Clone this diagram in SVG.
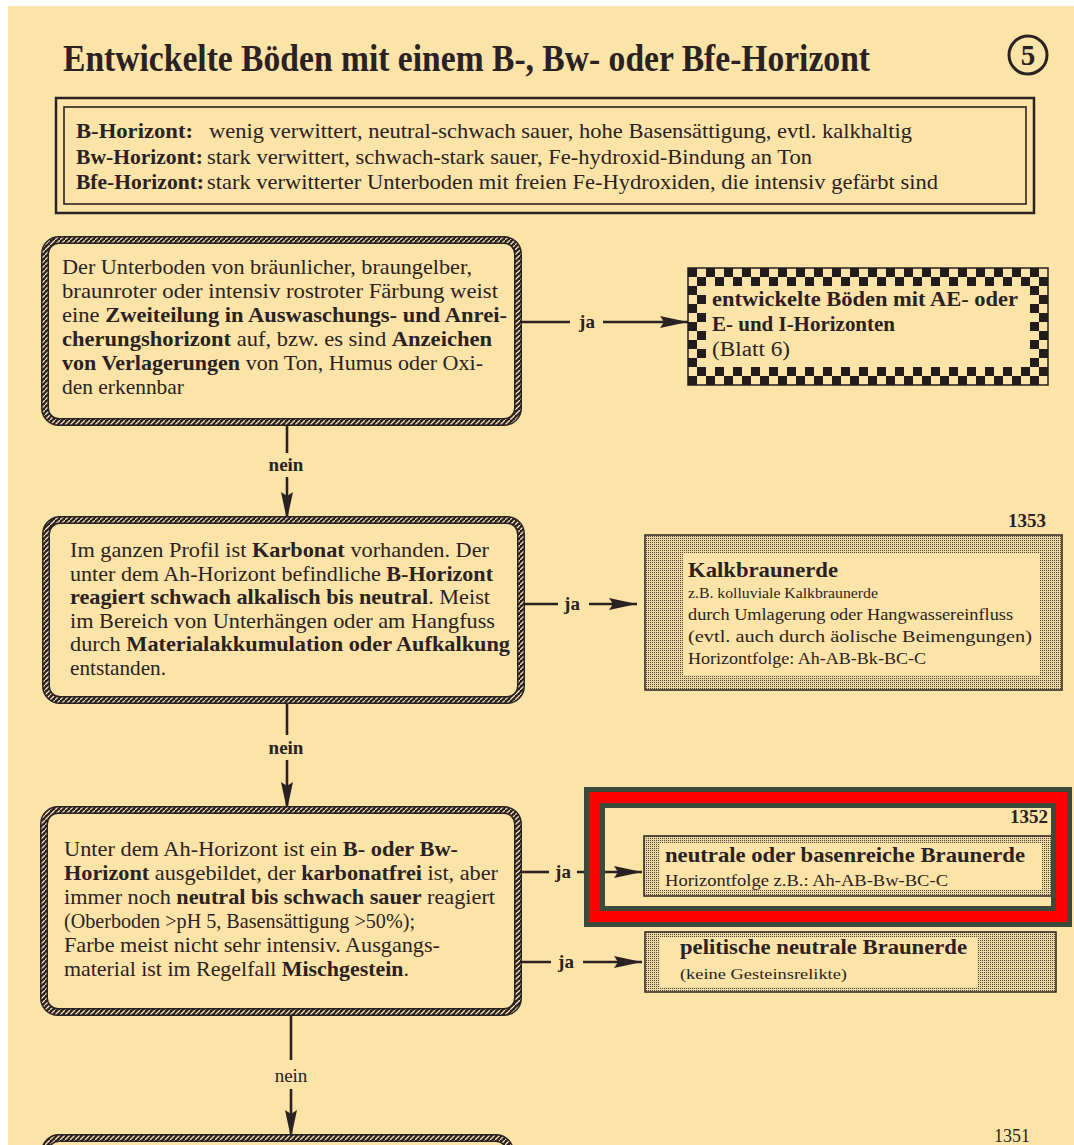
<svg xmlns="http://www.w3.org/2000/svg" width="1074" height="1145" viewBox="0 0 1074 1145">
<style>
text{font-family:"Liberation Serif","Times New Roman",serif;fill:#2a2222}
.b{font-weight:bold}
.nt{font-size:21px}
.sm{font-size:16.5px}
.lbl{font-size:19px;font-weight:bold}
.con{stroke:#2a2222;stroke-width:2.6;fill:none}
.rope1{fill:none;stroke:#2a2222;stroke-width:8}
.rope2{fill:none;stroke:url(#ropePat);stroke-width:5}
.stip{stroke:#2a2222;stroke-width:1.5}
</style>
<defs>
<pattern id="ropePat" patternUnits="userSpaceOnUse" width="5" height="5">
<rect width="5" height="5" fill="#2a2222"/>
<path d="M-1,6 L6,-1" stroke="#f3e2b4" stroke-width="1.3"/>
</pattern>
<pattern id="dots" patternUnits="userSpaceOnUse" width="2" height="2">
<rect width="2" height="2" fill="#efd9a2"/>
<rect width="1" height="1" fill="#4e4438"/>
</pattern>
<pattern id="checker" patternUnits="userSpaceOnUse" x="688" y="268" width="18" height="18">
<rect width="18" height="18" fill="#fce4a8"/>
<rect width="9" height="9" fill="#231c1c"/>
<rect x="9" y="9" width="9" height="9" fill="#231c1c"/>
</pattern>
<marker id="ah" markerUnits="userSpaceOnUse" markerWidth="30" markerHeight="14" refX="28" refY="7" orient="auto">
<path d="M0,1 L28,7 L0,13 L4,7 z" fill="#2a2222"/>
</marker>
</defs>

<rect width="1074" height="1145" fill="#ffffff"/>
<rect x="8" y="6" width="1066" height="1139" fill="#fce4a8"/>

<g id="title">
<text x="63" y="71" class="b" font-size="37" textLength="807" lengthAdjust="spacingAndGlyphs">Entwickelte Böden mit einem B-, Bw- oder Bfe-Horizont</text>
<circle cx="1028" cy="55" r="19" fill="none" stroke="#2a2222" stroke-width="3"/>
<text x="1028" y="65" class="b" font-size="29" text-anchor="middle">5</text>
</g>

<g id="definitions">
<rect x="56" y="98" width="978" height="115" fill="none" stroke="#2a2222" stroke-width="2.5"/>
<rect x="64" y="107" width="962" height="97" fill="none" stroke="#2a2222" stroke-width="1.6"/>
<text x="76" y="138" class="b" font-size="21" textLength="117" lengthAdjust="spacingAndGlyphs">B-Horizont:</text>
<text x="209" y="138" font-size="21" textLength="703" lengthAdjust="spacingAndGlyphs">wenig verwittert, neutral-schwach sauer, hohe Basensättigung, evtl. kalkhaltig</text>
<text x="76" y="164" class="b" font-size="21" textLength="127" lengthAdjust="spacingAndGlyphs">Bw-Horizont:</text>
<text x="207" y="164" font-size="21" textLength="605" lengthAdjust="spacingAndGlyphs">stark verwittert, schwach-stark sauer, Fe-hydroxid-Bindung an Ton</text>
<text x="76" y="189" class="b" font-size="21" textLength="128" lengthAdjust="spacingAndGlyphs">Bfe-Horizont:</text>
<text x="207" y="189" font-size="21" textLength="731" lengthAdjust="spacingAndGlyphs">stark verwitterter Unterboden mit freien Fe-Hydroxiden, die intensiv gefärbt sind</text>
</g>

<g id="connectors">
<line class="con" x1="518" y1="322" x2="570" y2="322"/>
<text x="587" y="328" class="lbl" text-anchor="middle">ja</text>
<line class="con" x1="603" y1="322" x2="688" y2="322" marker-end="url(#ah)"/>
<line class="con" x1="287" y1="422" x2="287" y2="453"/>
<text x="286" y="471" class="lbl" text-anchor="middle">nein</text>
<line class="con" x1="287" y1="477" x2="287" y2="520" marker-end="url(#ah)"/>
<line class="con" x1="521" y1="604" x2="558" y2="604"/>
<text x="572" y="610" class="lbl" text-anchor="middle">ja</text>
<line class="con" x1="589" y1="604" x2="637" y2="604" marker-end="url(#ah)"/>
<line class="con" x1="287" y1="700" x2="287" y2="735"/>
<text x="286" y="754" class="lbl" text-anchor="middle">nein</text>
<line class="con" x1="287" y1="760" x2="287" y2="810" marker-end="url(#ah)"/>
<line class="con" x1="518" y1="872" x2="549" y2="872"/>
<text x="563" y="878" class="lbl" text-anchor="middle">ja</text>
<line class="con" x1="577" y1="872" x2="642" y2="872" marker-end="url(#ah)"/>
<line class="con" x1="518" y1="962" x2="551" y2="962"/>
<text x="566" y="968" class="lbl" text-anchor="middle">ja</text>
<line class="con" x1="583" y1="962" x2="642" y2="962" marker-end="url(#ah)"/>
<line class="con" x1="291" y1="1012" x2="291" y2="1060"/>
<text x="291" y="1082" font-size="19" font-family="Liberation Sans Narrow, Liberation Sans, sans-serif" text-anchor="middle">nein</text>
<line class="con" x1="291" y1="1089" x2="291" y2="1138" marker-end="url(#ah)"/>
</g>

<g id="node1">
<rect class="rope1" x="45" y="240" width="473" height="182" rx="14"/>
<rect class="rope2" x="45" y="240" width="473" height="182" rx="14"/>
<text class="nt" x="62" y="274" textLength="410" lengthAdjust="spacingAndGlyphs">Der Unterboden von bräunlicher, braungelber,</text>
<text class="nt" x="62" y="298" textLength="436" lengthAdjust="spacingAndGlyphs">braunroter oder intensiv rostroter Färbung weist</text>
<text class="nt" x="62" y="322" textLength="445" lengthAdjust="spacingAndGlyphs">eine <tspan class="b">Zweiteilung in Auswaschungs- und Anrei-</tspan></text>
<text class="nt" x="62" y="346" textLength="430" lengthAdjust="spacingAndGlyphs"><tspan class="b">cherungshorizont</tspan> auf, bzw. es sind <tspan class="b">Anzeichen</tspan></text>
<text class="nt" x="62" y="370" textLength="421" lengthAdjust="spacingAndGlyphs"><tspan class="b">von Verlagerungen</tspan> von Ton, Humus oder Oxi-</text>
<text class="nt" x="62" y="394" textLength="122" lengthAdjust="spacingAndGlyphs">den erkennbar</text>
</g>

<g id="node1-yes">
<rect x="688" y="268" width="360" height="117" fill="url(#checker)"/>
<rect x="706" y="286" width="324" height="81" fill="#fce4a8"/>
<rect x="688" y="268" width="360" height="117" fill="none" stroke="#231c1c" stroke-width="1.5"/>
<text x="712" y="306" class="b" font-size="20.5" textLength="306" lengthAdjust="spacingAndGlyphs">entwickelte Böden mit AE- oder</text>
<text x="712" y="331" class="b" font-size="20.5" textLength="183" lengthAdjust="spacingAndGlyphs">E- und I-Horizonten</text>
<text x="712" y="356" font-size="20.5" textLength="78" lengthAdjust="spacingAndGlyphs">(Blatt 6)</text>
</g>

<g id="node2">
<rect class="rope1" x="46" y="520" width="475" height="180" rx="14"/>
<rect class="rope2" x="46" y="520" width="475" height="180" rx="14"/>
<text class="nt" x="70" y="557" textLength="419" lengthAdjust="spacingAndGlyphs">Im ganzen Profil ist <tspan class="b">Karbonat</tspan> vorhanden. Der</text>
<text class="nt" x="70" y="580.5" textLength="423" lengthAdjust="spacingAndGlyphs">unter dem Ah-Horizont befindliche <tspan class="b">B-Horizont</tspan></text>
<text class="nt" x="70" y="604" textLength="420" lengthAdjust="spacingAndGlyphs"><tspan class="b">reagiert schwach alkalisch bis neutral</tspan>. Meist</text>
<text class="nt" x="70" y="627.5" textLength="425" lengthAdjust="spacingAndGlyphs">im Bereich von Unterhängen oder am Hangfuss</text>
<text class="nt" x="70" y="651" textLength="440" lengthAdjust="spacingAndGlyphs">durch <tspan class="b">Materialakkumulation oder Aufkalkung</tspan></text>
<text class="nt" x="70" y="674.5" textLength="96" lengthAdjust="spacingAndGlyphs">entstanden.</text>
</g>

<g id="node2-yes">
<text x="1046" y="527" class="b" font-size="19" text-anchor="end">1353</text>
<rect x="645" y="535" width="417" height="155" fill="url(#dots)" class="stip"/>
<rect x="683" y="553" width="357" height="122" fill="#fce4a8"/>
<text x="688" y="577" class="b" font-size="21" textLength="150" lengthAdjust="spacingAndGlyphs">Kalkbraunerde</text>
<text x="688" y="598" font-size="15" textLength="190" lengthAdjust="spacingAndGlyphs">z.B. kolluviale Kalkbraunerde</text>
<text x="688" y="620" class="sm" textLength="325" lengthAdjust="spacingAndGlyphs">durch Umlagerung oder Hangwassereinfluss</text>
<text x="688" y="642" class="sm" textLength="344" lengthAdjust="spacingAndGlyphs">(evtl. auch durch äolische Beimengungen)</text>
<text x="688" y="664" class="sm" textLength="238" lengthAdjust="spacingAndGlyphs">Horizontfolge: Ah-AB-Bk-BC-C</text>
</g>

<g id="node3">
<rect class="rope1" x="44" y="810" width="474" height="202" rx="14"/>
<rect class="rope2" x="44" y="810" width="474" height="202" rx="14"/>
<text class="nt" x="64" y="856" textLength="394" lengthAdjust="spacingAndGlyphs">Unter dem Ah-Horizont ist ein <tspan class="b">B- oder Bw-</tspan></text>
<text class="nt" x="64" y="880" textLength="434" lengthAdjust="spacingAndGlyphs"><tspan class="b">Horizont</tspan> ausgebildet, der <tspan class="b">karbonatfrei</tspan> ist, aber</text>
<text class="nt" x="64" y="904" textLength="431" lengthAdjust="spacingAndGlyphs">immer noch <tspan class="b">neutral bis schwach sauer</tspan> reagiert</text>
<text class="nt" x="64" y="928" textLength="351" lengthAdjust="spacingAndGlyphs">(Oberboden &gt;pH 5, Basensättigung &gt;50%);</text>
<text class="nt" x="64" y="952" textLength="376" lengthAdjust="spacingAndGlyphs">Farbe meist nicht sehr intensiv. Ausgangs-</text>
<text class="nt" x="64" y="976" textLength="345" lengthAdjust="spacingAndGlyphs">material ist im Regelfall <tspan class="b">Mischgestein</tspan>.</text>
</g>

<g id="node3-yes-a">
<text x="1048" y="823" class="b" font-size="19" text-anchor="end">1352</text>
<rect x="644" y="836" width="412" height="60" fill="url(#dots)" class="stip"/>
<rect x="660" y="843" width="382" height="47" fill="#fce4a8"/>
<text x="665" y="862" class="b" font-size="21" textLength="360" lengthAdjust="spacingAndGlyphs">neutrale oder basenreiche Braunerde</text>
<text x="665" y="886" class="sm" textLength="283" lengthAdjust="spacingAndGlyphs">Horizontfolge z.B.: Ah-AB-Bw-BC-C</text>
</g>

<g id="node3-yes-b">
<rect x="645" y="932" width="411" height="60" fill="url(#dots)" class="stip"/>
<rect x="660" y="937" width="317" height="50" fill="#fce4a8"/>
<text x="680" y="954" class="b" font-size="21" textLength="287" lengthAdjust="spacingAndGlyphs">pelitische neutrale Braunerde</text>
<text x="680" y="979" font-size="15.5" textLength="167" lengthAdjust="spacingAndGlyphs">(keine Gesteinsrelikte)</text>
</g>

<g id="node4">
<rect class="rope1" x="45" y="1138" width="465" height="60" rx="14"/>
<rect class="rope2" x="45" y="1138" width="465" height="60" rx="14"/>
<text x="1030" y="1142" font-size="18" text-anchor="end">1351</text>
</g>

<g id="highlight">
<rect x="586.5" y="789.5" width="483" height="135" fill="none" stroke="#3b4a3b" stroke-width="5"/>
<rect x="594.5" y="797.5" width="467" height="119" fill="none" stroke="#ff0000" stroke-width="11"/>
<rect x="602.5" y="805.5" width="451" height="103" fill="none" stroke="#3b4a3b" stroke-width="5"/>
</g>
</svg>
